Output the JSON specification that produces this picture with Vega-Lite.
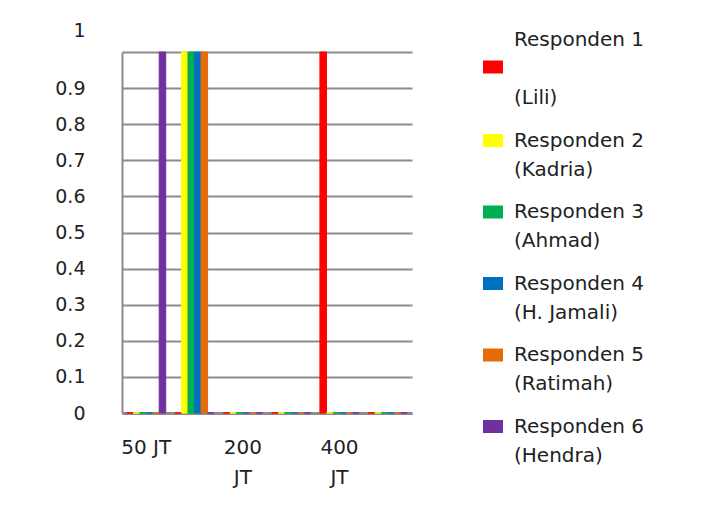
{
  "$schema": "https://vega.github.io/schema/vega-lite/v6.json",
  "width": 290,
  "height": 361,
  "autosize": {"type": "none"},
  "padding": {"left": 122, "top": 52, "right": 312, "bottom": 103},
  "background": "white",
  "config": {
    "view": {"stroke": null},
    "font": "DejaVu Sans"
  },
  "data": {
    "values": [
      {"kategori": "50 JT", "responden": "Responden 1 (Lili)", "nilai": 0},
      {"kategori": "50 JT", "responden": "Responden 2 (Kadria)", "nilai": 0},
      {"kategori": "50 JT", "responden": "Responden 3 (Ahmad)", "nilai": 0},
      {"kategori": "50 JT", "responden": "Responden 4 (H. Jamali)", "nilai": 0},
      {"kategori": "50 JT", "responden": "Responden 5 (Ratimah)", "nilai": 0},
      {"kategori": "50 JT", "responden": "Responden 6 (Hendra)", "nilai": 1},
      {"kategori": "100 JT", "responden": "Responden 1 (Lili)", "nilai": 0},
      {"kategori": "100 JT", "responden": "Responden 2 (Kadria)", "nilai": 1},
      {"kategori": "100 JT", "responden": "Responden 3 (Ahmad)", "nilai": 1},
      {"kategori": "100 JT", "responden": "Responden 4 (H. Jamali)", "nilai": 1},
      {"kategori": "100 JT", "responden": "Responden 5 (Ratimah)", "nilai": 1},
      {"kategori": "100 JT", "responden": "Responden 6 (Hendra)", "nilai": 0},
      {"kategori": "200 JT", "responden": "Responden 1 (Lili)", "nilai": 0},
      {"kategori": "200 JT", "responden": "Responden 2 (Kadria)", "nilai": 0},
      {"kategori": "200 JT", "responden": "Responden 3 (Ahmad)", "nilai": 0},
      {"kategori": "200 JT", "responden": "Responden 4 (H. Jamali)", "nilai": 0},
      {"kategori": "200 JT", "responden": "Responden 5 (Ratimah)", "nilai": 0},
      {"kategori": "200 JT", "responden": "Responden 6 (Hendra)", "nilai": 0},
      {"kategori": "300 JT", "responden": "Responden 1 (Lili)", "nilai": 0},
      {"kategori": "300 JT", "responden": "Responden 2 (Kadria)", "nilai": 0},
      {"kategori": "300 JT", "responden": "Responden 3 (Ahmad)", "nilai": 0},
      {"kategori": "300 JT", "responden": "Responden 4 (H. Jamali)", "nilai": 0},
      {"kategori": "300 JT", "responden": "Responden 5 (Ratimah)", "nilai": 0},
      {"kategori": "300 JT", "responden": "Responden 6 (Hendra)", "nilai": 0},
      {"kategori": "400 JT", "responden": "Responden 1 (Lili)", "nilai": 1},
      {"kategori": "400 JT", "responden": "Responden 2 (Kadria)", "nilai": 0},
      {"kategori": "400 JT", "responden": "Responden 3 (Ahmad)", "nilai": 0},
      {"kategori": "400 JT", "responden": "Responden 4 (H. Jamali)", "nilai": 0},
      {"kategori": "400 JT", "responden": "Responden 5 (Ratimah)", "nilai": 0},
      {"kategori": "400 JT", "responden": "Responden 6 (Hendra)", "nilai": 0},
      {"kategori": "500 JT", "responden": "Responden 1 (Lili)", "nilai": 0},
      {"kategori": "500 JT", "responden": "Responden 2 (Kadria)", "nilai": 0},
      {"kategori": "500 JT", "responden": "Responden 3 (Ahmad)", "nilai": 0},
      {"kategori": "500 JT", "responden": "Responden 4 (H. Jamali)", "nilai": 0},
      {"kategori": "500 JT", "responden": "Responden 5 (Ratimah)", "nilai": 0},
      {"kategori": "500 JT", "responden": "Responden 6 (Hendra)", "nilai": 0}
    ]
  },
  "mark": {"type": "bar", "strokeWidth": 1},
  "encoding": {
    "x": {
      "field": "kategori",
      "type": "nominal",
      "sort": ["50 JT", "100 JT", "200 JT", "300 JT", "400 JT", "500 JT"],
      "scale": {"paddingInner": 0.19, "paddingOuter": 0.095},
      "axis": {
        "title": null,
        "values": ["50 JT", "200 JT", "400 JT"],
        "labelExpr": "datum.value == '50 JT' ? datum.value : split(datum.value, ' ')",
        "labelAngle": 0,
        "labelBaseline": "top",
        "labelLineHeight": 30,
        "labelFontSize": 20,
        "labelColor": "#222222",
        "labelPadding": 24,
        "ticks": false,
        "domainColor": "#8c8c8c",
        "domainWidth": 3
      }
    },
    "xOffset": {
      "field": "responden",
      "sort": ["Responden 1 (Lili)", "Responden 2 (Kadria)", "Responden 3 (Ahmad)", "Responden 4 (H. Jamali)", "Responden 5 (Ratimah)", "Responden 6 (Hendra)"],
      "scale": {"paddingInner": 0, "paddingOuter": 0}
    },
    "y": {
      "field": "nilai",
      "type": "quantitative",
      "scale": {"domain": [0, 1]},
      "axis": {
        "title": null,
        "values": [0, 0.1, 0.2, 0.3, 0.4, 0.5, 0.6, 0.7, 0.8, 0.9, 1],
        "format": "~g",
        "grid": true,
        "gridColor": "#8c8c8c",
        "gridWidth": 2,
        "domainColor": "#8c8c8c",
        "domainWidth": 2,
        "ticks": false,
        "labelPadding": 37,
        "labelFontSize": 19,
        "labelColor": "#222222",
        "labelOffset": {"condition": {"test": "datum.value == 1", "value": -22}, "value": 0}
      }
    },
    "color": {
      "field": "responden",
      "type": "nominal",
      "scale": {
        "domain": ["Responden 1 (Lili)", "Responden 2 (Kadria)", "Responden 3 (Ahmad)", "Responden 4 (H. Jamali)", "Responden 5 (Ratimah)", "Responden 6 (Hendra)"],
        "range": ["#ff0000", "#ffff00", "#00b050", "#0070c0", "#e36c09", "#7030a0"]
      },
      "legend": {
        "title": null,
        "orient": "none",
        "legendX": 361,
        "legendY": 5,
        "padding": 0,
        "symbolType": "M-1,-0.65H1V0.65H-1Z",
        "symbolSize": 400,
        "symbolStrokeWidth": 0,
        "labelFontSize": 20,
        "labelColor": "#222222",
        "labelOffset": 11,
        "labelLimit": 250,
        "rowPadding": -6.5,
        "labelExpr": "datum.label == 'Responden 1 (Lili)' ? ['Responden 1', '(Lili)'] : ['\u00a0', slice(datum.label, 0, indexof(datum.label, ' (')), slice(datum.label, indexof(datum.label, ' (') + 1)]",
        "encode": {
          "labels": {
            "update": {
              "lineHeight": [
                {"test": "datum.value == 'Responden 1 (Lili)'", "value": 58},
                {"value": 29}
              ],
              "dy": [
                {"test": "datum.value == 'Responden 1 (Lili)'", "value": -27},
                {"value": -29}
              ]
            }
          }
        }
      }
    },
    "stroke": {
      "field": "responden",
      "type": "nominal",
      "scale": {
        "domain": ["Responden 1 (Lili)", "Responden 2 (Kadria)", "Responden 3 (Ahmad)", "Responden 4 (H. Jamali)", "Responden 5 (Ratimah)", "Responden 6 (Hendra)"],
        "range": ["#ff0000", "#ffff00", "#00b050", "#0070c0", "#e36c09", "#7030a0"]
      },
      "legend": null
    }
  }
}
